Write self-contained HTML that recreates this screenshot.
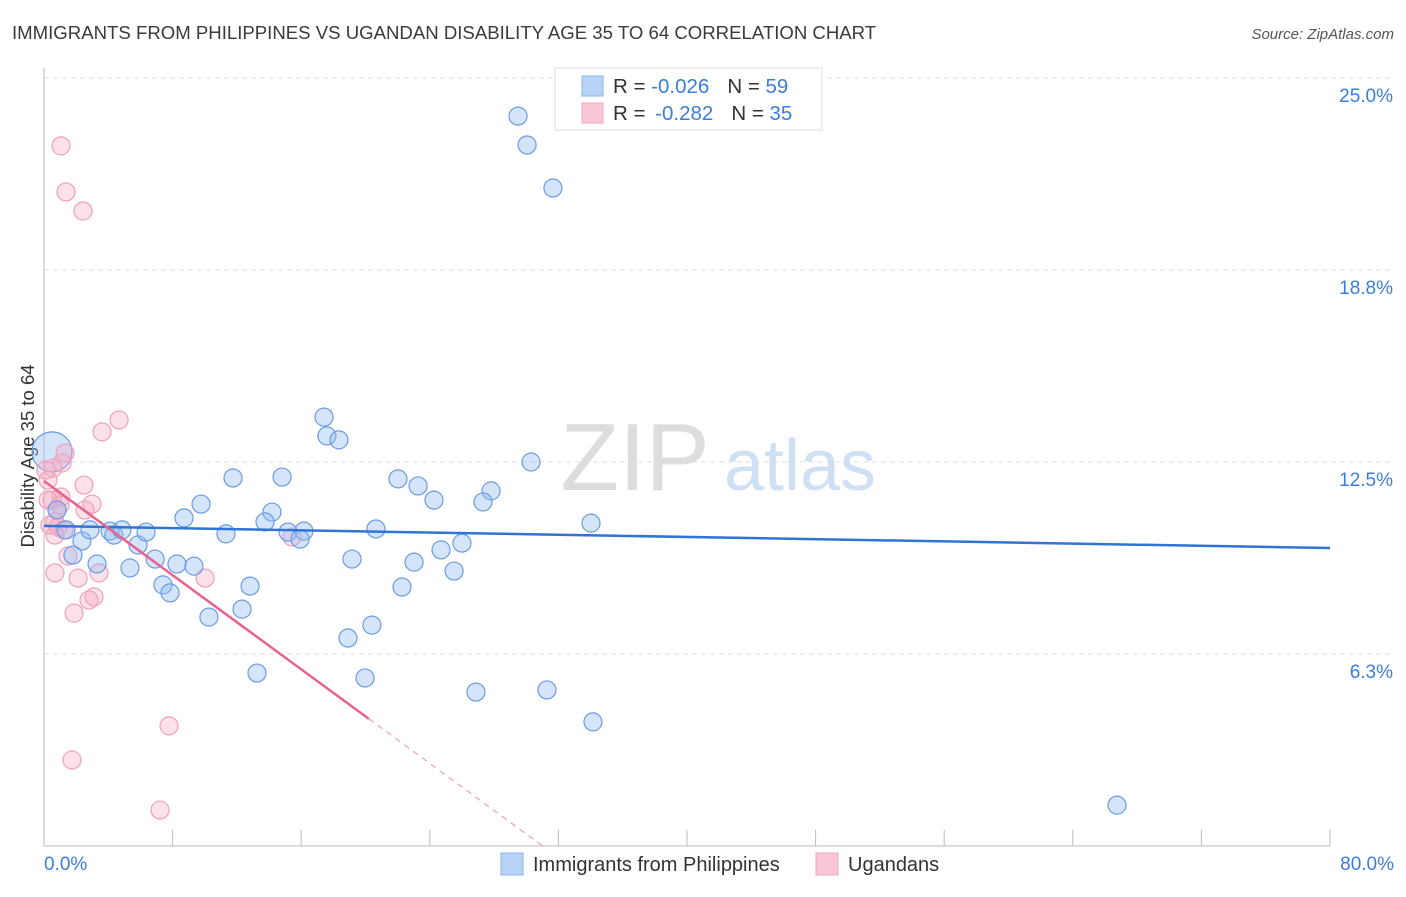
<!DOCTYPE html>
<html><head><meta charset="utf-8"><style>
body{margin:0;background:#fff;font-family:"Liberation Sans",sans-serif;}
svg text{font-family:"Liberation Sans",sans-serif;}
</style></head><body>
<svg id="chart" width="1406" height="892" xmlns="http://www.w3.org/2000/svg">
<text x="12" y="39" font-size="18.6" fill="#3a3a3a">IMMIGRANTS FROM PHILIPPINES VS UGANDAN DISABILITY AGE 35 TO 64 CORRELATION CHART</text>
<text x="1394" y="39" font-size="15" fill="#555" text-anchor="end" font-style="italic">Source: ZipAtlas.com</text>
<g id="grid"></g>
<g><text x="635" y="490" font-size="96" fill="#ddd" text-anchor="middle" font-family="Liberation Serif">ZIP</text><text x="800" y="490" font-size="72" fill="#cfe0f5" text-anchor="middle">atlas</text></g>
<line x1="44" y1="68" x2="44" y2="846" stroke="#bbb"/>
<line x1="44" y1="846" x2="1330" y2="846" stroke="#bbb"/>
<g id="ticks"></g>
<text transform="translate(34,456) rotate(-90)" font-size="18.5" fill="#333" text-anchor="middle">Disability Age 35 to 64</text>
<text x="44" y="870" font-size="19" fill="#3b7ddd">0.0%</text>
<text x="1394" y="870" font-size="19" fill="#3b7ddd" text-anchor="end">80.0%</text>
<g id="pts"></g>
<g id="trends"></g>
<g>
<rect x="555" y="68" width="267" height="62" fill="#fff" stroke="#ddd"/>
<rect x="582" y="76" width="21" height="20" fill="#b9d3f5" stroke="#8ab4ea"/>
<rect x="582" y="103" width="21" height="20" fill="#f9c6d6" stroke="#f0a8c0"/>
<text x="613" y="93" font-size="20.5" fill="#333">R = <tspan fill="#3b7ddd">-0.026</tspan><tspan dx="18">N = </tspan><tspan fill="#3b7ddd">59</tspan></text>
<text x="613" y="120" font-size="20.5" fill="#333">R = <tspan fill="#3b7ddd" dx="4">-0.282</tspan><tspan dx="18">N = </tspan><tspan fill="#3b7ddd">35</tspan></text>
</g>
<g><rect x="501" y="853" width="22" height="22" fill="#b9d3f5" stroke="#8ab4ea"/><text x="533" y="871" font-size="20" fill="#333">Immigrants from Philippines</text></g>
<g><rect x="816" y="853" width="22" height="22" fill="#f9c6d6" stroke="#f0a8c0"/><text x="848" y="871" font-size="20" fill="#333">Ugandans</text></g>
</svg>
<script>
const blueX=[29.49,30.05,31.66,17.42,17.60,18.35,30.30,11.76,14.81,22.02,23.27,24.26,27.81,27.31,9.77,8.71,14.18,13.75,34.03,20.65,16.17,15.18,15.93,26.00,24.70,23.02,19.16,25.51,22.27,12.82,12.32,10.26,20.40,18.91,13.25,19.97,26.87,31.29,34.15,66.75,0.81,1.37,2.36,1.80,2.86,3.30,4.11,4.35,4.85,5.85,5.35,6.35,6.91,7.40,7.84,8.27,9.33,11.32];
const blueY=[23.76,22.82,21.42,13.96,13.35,13.22,12.50,11.98,12.01,11.95,11.72,11.26,11.56,11.20,11.13,10.68,10.87,10.55,10.51,10.32,10.25,10.22,9.99,9.86,9.64,9.24,9.34,8.95,8.43,8.46,7.71,7.45,7.19,6.77,5.63,5.47,5.01,5.08,4.04,1.33,10.94,10.29,9.93,9.47,10.29,9.18,10.25,10.12,10.29,9.80,9.05,10.22,9.34,8.50,8.24,9.18,9.11,10.16];
const pinkX=[1.06,1.37,2.43,4.67,3.61,1.31,1.12,0.56,0.25,2.49,1.06,0.50,2.99,0.81,2.55,0.68,0.87,0.68,1.49,15.43,0.68,2.12,3.42,10.02,3.11,2.80,1.87,7.78,1.74,7.22,0.25,0.37,1.0,1.24,0.12];
const pinkY=[22.79,21.29,20.67,13.87,13.48,12.79,12.47,12.30,11.91,11.75,11.36,11.26,11.13,10.94,10.94,10.55,10.38,10.12,9.44,10.06,8.89,8.72,8.89,8.72,8.11,8.01,7.58,3.91,2.80,1.17,11.26,10.45,11.1,10.29,12.24];
const yTicks=[25,18.75,12.5,6.25];
const yTickLabels=["25.0%","18.8%","12.5%","6.3%"];
const xTicks=[0,8,16,24,32,40,48,56,64,72,80];
const blueTrend=[10.42,9.70];
const pinkTrend=[11.88,-0.383];
const NS="http://www.w3.org/2000/svg";
const X=v=>44+v*1286/80, Y=v=>846-v*30.72;
function mk(t,a,p){const e=document.createElementNS(NS,t);for(const k in a)e.setAttribute(k,a[k]);p.appendChild(e);return e;}
const grid=document.getElementById('grid');
yTicks.forEach((v,i)=>{
 const l=mk('line',{x1:44,x2:1394,y1:Y(v),y2:Y(v),stroke:'#ddd','stroke-dasharray':'5,4'},grid);
 
 
 const t=mk('text',{x:1393,y:Y(v)+24,'font-size':19,fill:'#3b7ddd','text-anchor':'end'},grid);
 t.textContent=yTickLabels[i];
 
 
});
const tk=document.getElementById('ticks');
xTicks.forEach(v=>{
 const l=mk('line',{x1:X(v),x2:X(v),y1:830,y2:846,stroke:'#bbb'},tk);
 
 
});
const pts=document.getElementById('pts');
const big=mk('circle',{cx:X(0.5),cy:Y(12.83),r:20,fill:'rgba(147,187,240,0.4)',stroke:'#6a9be3','stroke-width':1.2},pts);


pinkX.forEach((x,i)=>{
 const c=mk('circle',{cx:X(x),cy:Y(pinkY[i]),r:9,fill:'rgba(246,170,196,0.35)',stroke:'#efa0bb','stroke-width':1.2},pts);
 
 
});
blueX.forEach((x,i)=>{
 const c=mk('circle',{cx:X(x),cy:Y(blueY[i]),r:9,fill:'rgba(147,187,240,0.4)',stroke:'#6a9be3','stroke-width':1.2},pts);
 
 
});
const tr=document.getElementById('trends');
const bl=mk('line',{x1:X(0),y1:Y(blueTrend[0]),x2:X(80),y2:Y(blueTrend[1]),stroke:'#2f74d6','stroke-width':2.5},tr);


const pe=20.2, pz=-pinkTrend[0]/pinkTrend[1];
const pl=mk('line',{x1:X(0),y1:Y(pinkTrend[0]),x2:X(pe),y2:Y(pinkTrend[0]+pinkTrend[1]*pe),stroke:'#e8628f','stroke-width':2.5},tr);


const pd=mk('line',{x1:X(pe),y1:Y(pinkTrend[0]+pinkTrend[1]*pe),x2:X(pz),y2:Y(0),stroke:'#eea0bb','stroke-width':1.2,'stroke-dasharray':'6,5'},tr);


</script>
</body></html>
